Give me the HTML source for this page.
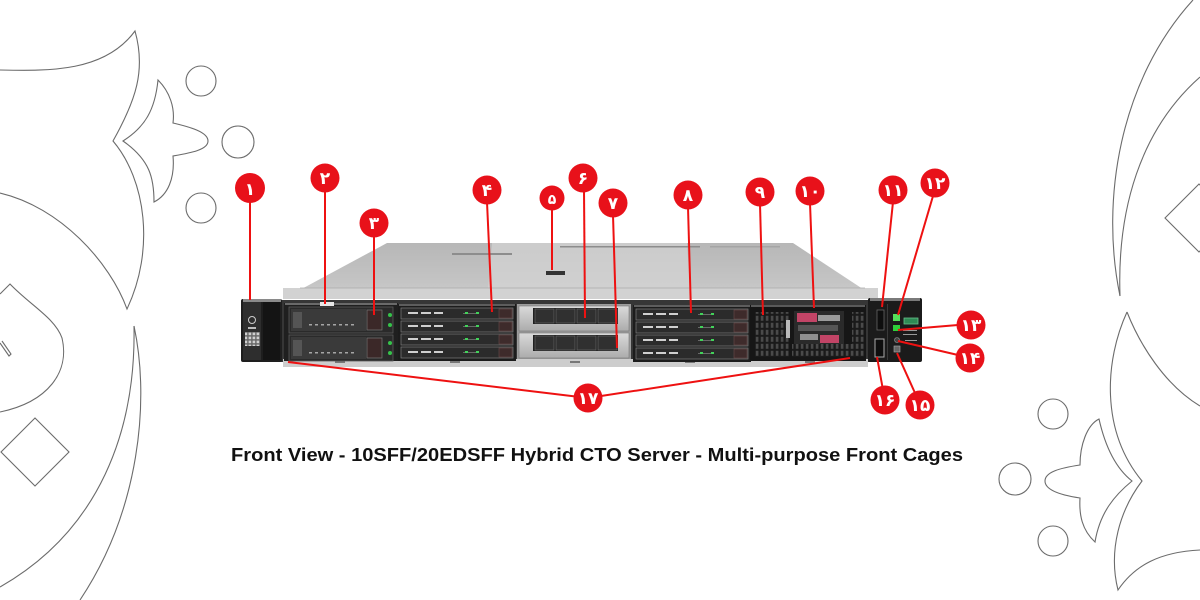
<!DOCTYPE html>
<html><head><meta charset="utf-8"><style>
html,body{margin:0;padding:0;background:#fff;}
svg{display:block;}
</style></head><body>
<svg width="1200" height="600" viewBox="0 0 1200 600" xmlns="http://www.w3.org/2000/svg">
<defs>
<linearGradient id="lid" x1="0" y1="0" x2="0" y2="1">
<stop offset="0" stop-color="#b7b7b7"/><stop offset="0.7" stop-color="#c4c4c4"/><stop offset="1" stop-color="#cecece"/>
</linearGradient>
<linearGradient id="silver" x1="0" y1="0" x2="0" y2="1">
<stop offset="0" stop-color="#dadada"/><stop offset="1" stop-color="#acacac"/>
</linearGradient>
<pattern id="vent" x="0" y="0" width="5" height="7" patternUnits="userSpaceOnUse">
<rect width="5" height="7" fill="#1a1a1a"/><rect x="0.8" y="0.8" width="2.6" height="5" fill="#4a4a4a"/>
</pattern>
<pattern id="grid" x="0" y="0" width="4" height="4" patternUnits="userSpaceOnUse">
<rect width="4" height="4" fill="#666"/><rect x="0.6" y="0.6" width="2.6" height="2.6" fill="#cfcfcf"/>
</pattern>
</defs>

<!-- decorations -->
<g fill="none" stroke="#6b6b6b" stroke-width="1.1">
<path d="M0,70 C50,71 105,72 135,31 C146,70 136,100 113,141 C146,180 155,250 127,309 C110,262 60,207 0,193"/>
<path d="M158,80 C170,92 175,108 173,123 C190,127 208,132 208,141 C208,150 190,153 173,156 C175,178 168,195 154,202 C154,178 150,160 123,141 C145,127 155,110 158,80 Z"/>
<circle cx="201" cy="81" r="15"/>
<circle cx="238" cy="142" r="16"/>
<circle cx="201" cy="208" r="15"/>
<path d="M0,294 L10,284 C30,305 55,318 62,338 C70,372 48,402 0,412"/>
<path d="M0,343 L9,356 L11,354 L2,341"/>
<path d="M35,418 L69,452 L35,486 L1,452 Z"/>
<path d="M134,326 C150,400 140,510 80,600"/>
<path d="M134,326 C136,430 100,530 0,587"/>
<path d="M1120,296 C1100,200 1120,80 1193,0"/>
<path d="M1120,296 C1117,210 1140,130 1200,77"/>
<path d="M1165,218 L1199,184 L1233,218 L1199,252 Z"/>
<path d="M1127,312 C1140,345 1165,385 1200,406"/>
<path d="M1127,312 C1105,360 1100,430 1142,481 C1120,510 1108,550 1118,590 C1135,565 1160,552 1200,550"/>
<path d="M1099,419 C1106,450 1118,470 1132,481 C1115,495 1100,512 1095,542 C1082,530 1079,515 1080,498 C1060,495 1045,490 1045,481 C1045,472 1060,468 1080,465 C1080,445 1087,425 1099,419 Z"/>
<circle cx="1053" cy="414" r="15"/>
<circle cx="1015" cy="479" r="16"/>
<circle cx="1053" cy="541" r="15"/>
</g>

<!-- server lid -->
<polygon points="387,243 793,243 878,299 283,299" fill="url(#lid)"/>
<polygon points="492,243 687,243 690,288 488,288" fill="#d4d4d4" opacity="0.7"/>
<rect x="283" y="288" width="595" height="11" fill="#d2d2d2"/>
<line x1="300" y1="288" x2="865" y2="288" stroke="#aaaaaa" stroke-width="0.8"/>
<g fill="#8d8d8d">
<rect x="452" y="253" width="60" height="2"/><rect x="560" y="246" width="140" height="1.5"/>
<rect x="710" y="246" width="70" height="1.5" fill="#a5a5a5"/>
</g>
<rect x="546" y="271" width="19" height="4" fill="#333"/>

<!-- front body -->
<rect x="280" y="300" width="592" height="62" fill="#363636"/>
<rect x="283" y="359" width="585" height="8" fill="#cdcdcd"/>
<g fill="#777"><rect x="335" y="361" width="10" height="2"/><rect x="450" y="361" width="10" height="2"/><rect x="570" y="361" width="10" height="2"/><rect x="685" y="361" width="10" height="2"/><rect x="805" y="361" width="10" height="2"/></g>

<!-- left ear -->
<rect x="241" y="299" width="41" height="63" rx="2" fill="#1e1e1e"/>
<rect x="243" y="302" width="18" height="58" fill="#2e2e2e"/>
<rect x="263" y="302" width="17" height="58" fill="#141414"/>
<rect x="243" y="299" width="38" height="3" fill="#8a8a8a"/>
<circle cx="252" cy="320" r="3.5" fill="none" stroke="#ccc" stroke-width="1"/>
<rect x="248" y="327" width="8" height="2" fill="#bbb"/>
<rect x="245" y="332" width="15" height="14" fill="url(#grid)"/>

<!-- cage 1 -->
<rect x="284" y="303" width="114" height="58" fill="#1f1f1f"/>
<rect x="285" y="303" width="112" height="2" fill="#6a6a6a"/>
<rect x="320" y="302" width="14" height="4" fill="#e8e8e8"/>
<g id="sff">
<rect x="289" y="307" width="104" height="26" fill="#2a2a2a" stroke="#5a5a5a" stroke-width="0.8"/>
<rect x="291" y="309" width="75" height="22" fill="#3a3a3a"/>
<rect x="293" y="312" width="9" height="16" fill="#555"/>
<g fill="#a5a5a5"><rect x="309" y="324" width="3" height="1.5"/><rect x="315" y="324" width="3" height="1.5"/><rect x="321" y="324" width="3" height="1.5"/><rect x="327" y="324" width="3" height="1.5"/><rect x="333" y="324" width="3" height="1.5"/><rect x="339" y="324" width="3" height="1.5"/><rect x="345" y="324" width="3" height="1.5"/><rect x="351" y="324" width="3" height="1.5"/></g>
<rect x="367" y="310" width="15" height="20" fill="#3b2828" stroke="#777" stroke-width="0.7"/>
<circle cx="390" cy="315" r="2" fill="#35c24a"/><circle cx="390" cy="325" r="2" fill="#35c24a"/>
</g>
<use href="#sff" y="28"/>

<!-- EDSFF cage 2 -->
<g id="ed2">
<rect x="398" y="304" width="118" height="57" fill="#1c1c1c"/>
<rect x="399" y="304" width="116" height="2" fill="#5d5d5d"/>
<g id="slot">
<rect x="401" y="308" width="112" height="11" fill="#2b2b2b" stroke="#7d7d7d" stroke-width="0.7"/>
<g fill="#cfcfcf"><rect x="408" y="312" width="10" height="2"/><rect x="421" y="312" width="10" height="2"/><rect x="434" y="312" width="9" height="2"/></g>
<rect x="463" y="313" width="16" height="0.8" fill="#777"/>
<rect x="465" y="312" width="3" height="2" fill="#42d25a"/><rect x="476" y="312" width="3" height="2" fill="#42d25a"/>
<rect x="499" y="309" width="13" height="9" fill="#3e2b2b" stroke="#6a4a4a" stroke-width="0.6"/>
</g>
<use href="#slot" y="13"/><use href="#slot" y="26"/><use href="#slot" y="39"/>
</g>

<!-- multipurpose cage 3 -->
<rect x="517" y="304" width="114" height="55" fill="#9c9c9c"/>
<rect x="519" y="306" width="110" height="25" fill="url(#silver)" stroke="#777" stroke-width="0.6"/>
<rect x="533" y="308" width="85" height="16" fill="#202020"/>
<g fill="#303030" stroke="#6d6d6d" stroke-width="0.6"><rect x="535" y="309" width="19" height="14"/><rect x="556" y="309" width="19" height="14"/><rect x="577" y="309" width="19" height="14"/><rect x="598" y="309" width="19" height="14"/></g>
<rect x="519" y="333" width="110" height="25" fill="url(#silver)" stroke="#777" stroke-width="0.6"/>
<rect x="533" y="335" width="85" height="16" fill="#202020"/>
<g fill="#303030" stroke="#6d6d6d" stroke-width="0.6"><rect x="535" y="336" width="19" height="14"/><rect x="556" y="336" width="19" height="14"/><rect x="577" y="336" width="19" height="14"/><rect x="598" y="336" width="19" height="14"/></g>

<!-- EDSFF cage 4 -->
<use href="#ed2" x="235" y="1"/>

<!-- cage 5 -->
<rect x="750" y="305" width="116" height="56" fill="#161616"/>
<rect x="751" y="305" width="114" height="2" fill="#5a5a5a"/>
<rect x="755" y="312" width="34" height="45" fill="url(#vent)"/>
<rect x="792" y="344" width="60" height="13" fill="url(#vent)"/>
<rect x="852" y="312" width="12" height="45" fill="url(#vent)"/>
<rect x="786" y="320" width="4" height="18" fill="#bbb"/>
<rect x="794" y="311" width="50" height="33" fill="#2a2a2a"/>
<rect x="797" y="313" width="20" height="9" fill="#c24466"/>
<rect x="818" y="315" width="22" height="6" fill="#9a9a9a"/>
<rect x="798" y="325" width="40" height="6" fill="#555"/>
<rect x="800" y="334" width="18" height="6" fill="#8f8f8f"/>
<rect x="820" y="335" width="19" height="8" fill="#c24466"/>

<!-- right ear / control -->
<rect x="868" y="298" width="54" height="64" rx="2" fill="#1b1b1b"/>
<rect x="870" y="298" width="50" height="3" fill="#7a7a7a"/>
<rect x="887" y="304" width="1" height="56" fill="#3a3a3a"/>
<rect x="877" y="310" width="7" height="20" fill="#0e0e0e" stroke="#666" stroke-width="0.8"/>
<rect x="875" y="339" width="9" height="18" fill="#0e0e0e" stroke="#aaa" stroke-width="1"/>
<rect x="893" y="314" width="7" height="7" fill="#55e05a"/>
<rect x="893" y="325" width="7" height="6" fill="#2fcf3a"/>
<circle cx="897" cy="340" r="2.5" fill="#444" stroke="#999" stroke-width="0.6"/>
<rect x="894" y="346" width="6" height="6" fill="#666" stroke="#aaa" stroke-width="0.6"/>
<rect x="904" y="318" width="14" height="6" fill="#2f8a55" stroke="#67c08a" stroke-width="0.8"/>
<g fill="#9a9a9a"><rect x="903" y="330" width="14" height="1"/><rect x="903" y="334" width="14" height="1"/><rect x="905" y="340" width="12" height="1"/></g>

<!-- callout lines -->
<g stroke="#ee1111" stroke-width="2" fill="none">
<line x1="250" y1="200" x2="250" y2="300"/>
<line x1="325" y1="190" x2="325" y2="304"/>
<line x1="374" y1="235" x2="374" y2="315"/>
<line x1="487" y1="202" x2="492" y2="312"/>
<line x1="552" y1="208" x2="552" y2="270"/>
<line x1="584" y1="190" x2="585" y2="318"/>
<line x1="613" y1="215" x2="617" y2="348"/>
<line x1="688" y1="207" x2="691" y2="313"/>
<line x1="760" y1="204" x2="763" y2="315"/>
<line x1="810" y1="203" x2="814" y2="308"/>
<line x1="893" y1="202" x2="882" y2="307"/>
<line x1="933" y1="196" x2="898" y2="315"/>
<line x1="958" y1="325" x2="898" y2="330"/>
<line x1="958" y1="355" x2="898" y2="341"/>
<line x1="915" y1="393" x2="897" y2="353"/>
<line x1="883" y1="390" x2="877" y2="357"/>
<line x1="588" y1="398" x2="288" y2="362"/>
<line x1="588" y1="398" x2="850" y2="358"/>
</g>

<!-- callout circles -->
<g fill="#e8111a">
<circle cx="250" cy="188" r="15"/>
<circle cx="325" cy="178" r="14.5"/>
<circle cx="374" cy="223" r="14.5"/>
<circle cx="487" cy="190" r="14.5"/>
<circle cx="552" cy="198" r="12.5"/>
<circle cx="583" cy="178" r="14.5"/>
<circle cx="613" cy="203" r="14.5"/>
<circle cx="688" cy="195" r="14.5"/>
<circle cx="760" cy="192" r="14.5"/>
<circle cx="810" cy="191" r="14.5"/>
<circle cx="893" cy="190" r="14.5"/>
<circle cx="935" cy="183" r="14.5"/>
<circle cx="971" cy="325" r="14.5"/>
<circle cx="970" cy="358" r="14.5"/>
<circle cx="920" cy="405" r="14.5"/>
<circle cx="885" cy="400" r="14.5"/>
<circle cx="588" cy="398" r="14.5"/>
</g>
<g fill="#fff" font-family="'DejaVu Sans', 'Liberation Sans', sans-serif" font-weight="bold" font-size="17" text-anchor="middle">
<text x="250" y="195">۱</text>
<text x="325" y="184">۲</text>
<text x="374" y="229">۳</text>
<text x="487" y="196">۴</text>
<text x="552" y="204" font-size="14">۵</text>
<text x="583" y="184">۶</text>
<text x="613" y="209">۷</text>
<text x="688" y="201">۸</text>
<text x="760" y="198">۹</text>
<text x="810" y="197">۱۰</text>
<text x="893" y="196">۱۱</text>
<text x="935" y="189">۱۲</text>
<text x="971" y="331">۱۳</text>
<text x="970" y="364">۱۴</text>
<text x="920" y="411">۱۵</text>
<text x="885" y="406">۱۶</text>
<text x="588" y="404">۱۷</text>
</g>

<!-- caption -->
<text x="231" y="461" font-family="'Liberation Sans', Arial, sans-serif" font-weight="bold" font-size="18" fill="#111" textLength="732" lengthAdjust="spacingAndGlyphs">Front View - 10SFF/20EDSFF Hybrid CTO Server - Multi-purpose Front Cages</text>
</svg>
</body></html>
